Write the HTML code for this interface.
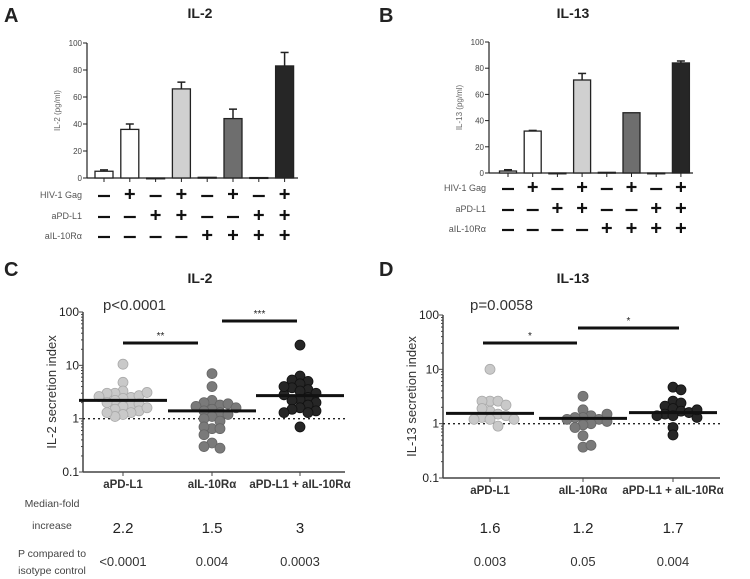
<!DOCTYPE html>
<html><head><meta charset="utf-8"><style>
body{margin:0;background:#fff}
svg{display:block;font-family:"Liberation Sans",sans-serif}
</style></head><body>
<svg id="fig" width="750" height="579" viewBox="0 0 750 579"></svg>
<script>
const barCats=["1","2","3","4","5","6","7","8"];
const il2Bars=[5,36,0,66,0.5,44,0.3,83];
const il2Err=[6,40,0,71,0,51,0,93];
const il13Bars=[1.5,32,0,71,0.5,46,0,84];
const il13Err=[2.5,32.5,0,76,0,46,0,85.5];
const barFills=["#fff","#fff","#fff","#d0d0d0","#fff","#6e6e6e","#fff","#262626"];
const gagRow=["-","+","-","+","-","+","-","+"];
const pdRow=["-","-","+","+","-","-","+","+"];
const ilRow=["-","-","-","-","+","+","+","+"];
const barTicks=[0,20,40,60,80,100];

const groups=["aPD-L1","aIL-10Rα","aPD-L1 + aIL-10Rα"];
const cG1=[10.5,4.8,3.3,2.5,3,2.7,3,2.4,3.1,2.2,1.8,1.9,2,1.7,1.5,1.4,1.3,1.2,1.1,1.3,2.6,1.6];
const cG2=[7,4,2.2,1.8,2,1.9,1.7,1.5,1.4,1.3,1.2,1.1,1,0.9,0.65,0.7,0.65,0.5,0.35,0.28,0.3,1.6];
const cG3=[24,6.3,5,5.3,4.5,3.8,3.5,3.3,3,2.5,2.3,2.2,2,1.8,1.6,1.5,1.4,1.3,1.3,0.7,2.8,4];
const cMed=[2.2,1.4,2.7];
const dG1=[10,2.6,2.6,2.6,2.2,1.7,1.5,1.3,1.4,1.2,1.2,1.2,0.9,1.9];
const dG2=[3.2,1.8,1.4,1.3,1.3,1.2,1.2,1.1,1.0,0.95,0.85,0.6,0.37,0.4,1.5];
const dG3=[4.7,4.2,2.6,2.4,2.1,1.9,1.7,1.6,1.5,1.4,1.4,1.3,0.85,0.62,1.8];
const dMed=[1.55,1.25,1.6];
const logTicks=[0.1,1,10,100];
const logTickLabels=["0.1","1","10","100"];
const cFold=["2.2","1.5","3"];
const cP=["<0.0001","0.004","0.0003"];
const dFold=["1.6","1.2","1.7"];
const dP=["0.003","0.05","0.004"];

const NS="http://www.w3.org/2000/svg";
const svg=document.getElementById("fig");
function el(tag,attrs,parent,txt){const e=document.createElementNS(NS,tag);for(const k in attrs)e.setAttribute(k,attrs[k]);if(txt!==undefined)e.textContent=txt;(parent||svg).appendChild(e);return e;}
function txt(x,y,s,size,opt,parent){opt=opt||{};const t=el("text",{x:x,y:y,"font-size":size,fill:opt.fill||"#222","text-anchor":opt.anchor||"middle","font-weight":opt.bold?"bold":"normal"},parent,s);return t;}

function barPanel(o){
  const g=el("g",{});
  
  
  const yS=v=>o.y0-(v/100)*(o.y0-o.y100);
  const xS=i=>o.x1+i*o.step;
  const L=txt(o.letterX,22,o.letter,20,{bold:true,anchor:"start"},g);
  
  const T=txt(o.titleX,18,o.title,14,{bold:true},g);
  
  el("line",{x1:o.ax,y1:o.y100,x2:o.ax,y2:o.y0,stroke:"#222","stroke-width":1.2},g);
  el("line",{x1:o.ax,y1:o.y0,x2:o.axEnd,y2:o.y0,stroke:"#222","stroke-width":1.2},g);
  barTicks.forEach(t=>{el("line",{x1:o.ax-4,y1:yS(t),x2:o.ax,y2:yS(t),stroke:"#222"},g);
    const tl=txt(o.ax-5,yS(t)+3,String(t),8,{anchor:"end",fill:"#444"},g);
    });
  const yt=txt(0,0,o.ylab,8,{fill:"#666"},g);
  yt.setAttribute("transform",`translate(${o.ax-27},${(o.y0+o.y100)/2}) rotate(-90)`);
  
  barCats.forEach((c,i)=>{
    const x=xS(i);
    el("line",{x1:x,y1:o.y0,x2:x,y2:o.y0+4,stroke:"#222"},g);
    if(o.err[i]>o.vals[i]){el("line",{x1:x,y1:yS(o.err[i]),x2:x,y2:yS(o.vals[i]),stroke:"#222","stroke-width":1.5},g);
      el("line",{x1:x-4,y1:yS(o.err[i]),x2:x+4,y2:yS(o.err[i]),stroke:"#222","stroke-width":1.5},g);}
    const b=el("rect",{x:x-o.bw/2,y:yS(o.vals[i]),width:o.bw,height:Math.max(o.y0-yS(o.vals[i]),0.8),fill:barFills[i],stroke:"#222","stroke-width":1.3},g);
    
  });
  const rows=[["HIV-1 Gag",gagRow],["aPD-L1",pdRow],["aIL-10Rα",ilRow]];
  rows.forEach((r,j)=>{
    const y=o.rowY[j];
    const rl=txt(o.labR,y+3,r[0],9,{anchor:"end",fill:"#555"},g);
    
    r[1].forEach((s,i)=>{
      const x=xS(i);
      if(s==="+"){el("line",{x1:x-5,y1:y-1,x2:x+5,y2:y-1,stroke:"#111","stroke-width":2.2},g);el("line",{x1:x,y1:y-6,x2:x,y2:y+4,stroke:"#111","stroke-width":2.2},g);}
      else el("line",{x1:x-6,y1:y+1,x2:x+6,y2:y+1,stroke:"#111","stroke-width":2.2},g);
    });
  });
}
barPanel({name:"panel-a-il2-bars",letter:"A",letterX:4,title:"IL-2",titleX:200,ax:87,axEnd:298,y0:178,y100:43,x1:104,step:25.8,bw:18,vals:il2Bars,err:il2Err,ylab:"IL-2 (pg/ml)",rowY:[195,216,236],labR:82});
barPanel({name:"panel-b-il13-bars",letter:"B",letterX:379,title:"IL-13",titleX:573,ax:489,axEnd:693,y0:173,y100:42,x1:508,step:24.7,bw:17,vals:il13Bars,err:il13Err,ylab:"IL-13 (pg/ml)",rowY:[188,209,229],labR:486});

const scatFill=["#c9c9c9","#7a7a7a","#262626"];
const scatStroke=["#aaa","#666","#111"];
function scatPanel(o){
  const g=el("g",{});
  
  
  const dec=(o.y01-o.y100)/3;
  const yS=v=>o.y01-(Math.log10(v)+1)*dec;
  const L=txt(o.letterX,276,o.letter,20,{bold:true,anchor:"start"},g);
  
  const T=txt(o.titleX,283,o.title,14,{bold:true},g);
  
  el("line",{x1:o.ax,y1:o.y100,x2:o.ax,y2:o.y01,stroke:"#444","stroke-width":1.5},g);
  el("line",{x1:o.ax,y1:o.y01,x2:o.axEnd,y2:o.y01,stroke:"#444","stroke-width":1.5},g);
  for(let d=0;d<3;d++)for(let k=2;k<10;k++){const y=yS(Math.pow(10,d-1)*k);el("line",{x1:o.ax-2,y1:y,x2:o.ax,y2:y,stroke:"#444"},g);}
  logTicks.forEach((t,i)=>{el("line",{x1:o.ax-4,y1:yS(t),x2:o.ax,y2:yS(t),stroke:"#444"},g);
    const tl=txt(o.ax-4,yS(t)+4,logTickLabels[i],12,{anchor:"end"},g);
    });
  const yt=txt(0,0,o.ylab,13,{fill:"#333"},g);
  yt.setAttribute("transform",`translate(${o.ax-27},${(o.y01+o.y100)/2}) rotate(-90)`);
  
  el("line",{x1:o.ax,y1:yS(1),x2:o.axEnd,y2:yS(1),stroke:"#222","stroke-width":1.3,"stroke-dasharray":"2,3"},g);
  const pt=txt(o.pX,310,o.pText,15,{anchor:"start",fill:"#333"},g);
  
  o.data.forEach((arr,gi)=>{
    const cx=o.cx[gi];
    el("line",{x1:cx,y1:o.y01,x2:cx,y2:o.y01+4,stroke:"#444"},g);
    const cl=txt(cx,o.y01+16,groups[gi],11.5,{bold:true,fill:"#333"},g);
    
    const placed=[];
    arr.forEach((v,i)=>{
      const y=yS(v);let off=0;const cand=[0,8,-8,16,-16,24,-24,32,-32];
      for(const c of cand){if(placed.every(p=>Math.hypot(p[0]-c,p[1]-y)>7)){off=c;break;}}
      placed.push([off,y]);
      const c=el("circle",{cx:cx+off,cy:y,r:5,fill:scatFill[gi],stroke:scatStroke[gi],"stroke-width":0.8},g);
      
    });
    const m=el("line",{x1:cx-44,y1:yS(o.med[gi]),x2:cx+44,y2:yS(o.med[gi]),stroke:"#111","stroke-width":3},g);
    
    const f=txt(cx,533,o.fold[gi],15,{fill:"#222"},g);
    
    const p=txt(cx,566,o.pv[gi],13,{fill:"#333"},g);
    
  });
  o.sig.forEach(s=>{
    el("line",{x1:s[0],y1:s[2],x2:s[1],y2:s[2],stroke:"#111","stroke-width":3},g);
    const st=txt((s[0]+s[1])/2,s[2]-4,s[3],10,{fill:"#222"},g);
    
  });
}
scatPanel({name:"panel-c-il2-scatter",letter:"C",letterX:4,title:"IL-2",titleX:200,ax:83,axEnd:345,y100:312,y01:472,cx:[123,212,300],data:[cG1,cG2,cG3],med:cMed,ylab:"IL-2  secretion index",pText:"p<0.0001",pX:103,fold:cFold,pv:cP,sig:[[123,198,343,"**"],[222,297,321,"***"]]});
scatPanel({name:"panel-d-il13-scatter",letter:"D",letterX:379,title:"IL-13",titleX:573,ax:443,axEnd:720,y100:315,y01:478,cx:[490,583,673],data:[dG1,dG2,dG3],med:dMed,ylab:"IL-13 secretion index",pText:"p=0.0058",pX:470,fold:dFold,pv:dP,sig:[[483,577,343,"*"],[578,679,328,"*"]]});

[["Median-fold",507],["increase",529],["P compared to",557],["isotype control",574]].forEach(r=>{
  const t=txt(52,r[1],r[0],10.5,{fill:"#444"});
  
});
</script>
</body></html>
